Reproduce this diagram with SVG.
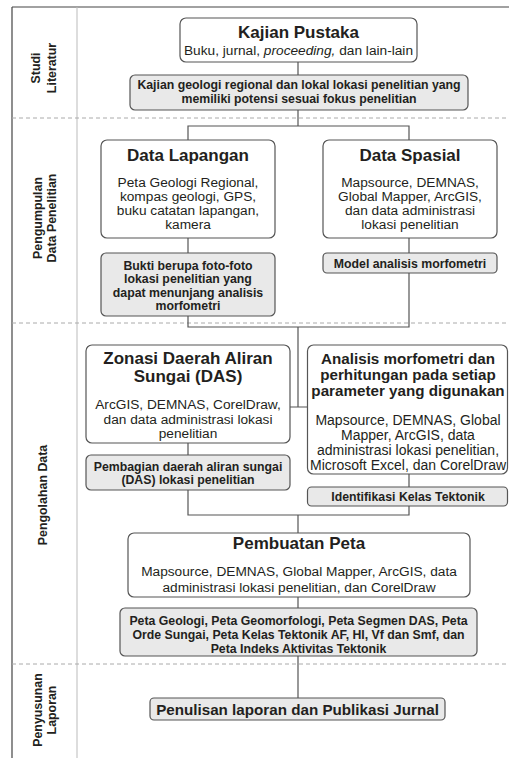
<svg xmlns="http://www.w3.org/2000/svg" width="509" height="758" viewBox="0 0 509 758">
<style>
text{font-family:"Liberation Sans",Arial,sans-serif;fill:#231f20;text-anchor:middle}
.box{fill:#fff;stroke:#555;stroke-width:1.2}
.gbox{fill:#e9e9e9;stroke:#555;stroke-width:1.2}
.t17{font-size:17px;font-weight:bold}
.t155{font-size:15.2px;font-weight:bold}
.b{font-size:13.7px}
.b14{font-size:14px}
.g{font-size:12.3px;font-weight:bold}
.lab{font-size:12.4px;font-weight:bold}
.conn{fill:none;stroke:#555;stroke-width:1.2}
.dash{stroke:#aaa;stroke-width:1;stroke-dasharray:4 3}
</style>
<rect width="509" height="758" fill="#fff"/>
<g id="frame">
<line x1="12" y1="7" x2="509" y2="7" stroke="#444" stroke-width="1.2"/>
<line x1="12" y1="7" x2="12" y2="758" stroke="#444" stroke-width="1.2"/>
<line x1="77" y1="7" x2="77" y2="758" stroke="#bbb" stroke-width="1"/>
<line class="dash" x1="12" y1="118" x2="509" y2="118"/>
<line class="dash" x1="12" y1="323" x2="509" y2="323"/>
<line class="dash" x1="12" y1="664" x2="509" y2="664"/>
</g>
<g id="labels">
<text class="lab" transform="translate(40,68) rotate(-90)">Studi</text>
<text class="lab" transform="translate(56,68) rotate(-90)">Literatur</text>
<text class="lab" transform="translate(42,218) rotate(-90)">Pengumpulan</text>
<text class="lab" transform="translate(56,218) rotate(-90)">Data Penelitian</text>
<text class="lab" transform="translate(47,495) rotate(-90)">Pengolahan Data</text>
<text class="lab" transform="translate(42,710) rotate(-90)">Penyusunan</text>
<text class="lab" transform="translate(56,710) rotate(-90)">Laporan</text>
</g>
<g id="connectors">
<path class="conn" d="M298,62V75M298,110V126M188,140V126H409V140"/>
<path class="conn" d="M188,238V253M409,238V253"/>
<path class="conn" d="M188,316V327H409V273M298,327V407M289,407H308"/>
<path class="conn" d="M188,443V455M409,474V487M188,490V515H409V506M298,515V533"/>
<path class="conn" d="M298,597V608M298,656V698"/>
</g>
<g id="kajian-pustaka">
<rect class="box" x="180" y="18" width="237" height="44" rx="6"/>
<text class="t17" x="298.5" y="38">Kajian Pustaka</text>
<text class="b" x="298.5" y="55">Buku, jurnal, <tspan font-style="italic">proceeding,</tspan> dan lain-lain</text>
</g>
<g id="kajian-geologi">
<rect class="gbox" x="130" y="75" width="338" height="35" rx="5"/>
<text class="g" x="299" y="88.5">Kajian geologi regional dan lokal lokasi penelitian yang</text>
<text class="g" x="299" y="103">memiliki potensi sesuai fokus penelitian</text>
</g>
<g id="data-lapangan">
<rect class="box" x="101" y="140" width="174" height="98" rx="6"/>
<text class="t17" x="188" y="161">Data Lapangan</text>
<text class="b" x="188" y="187">Peta Geologi Regional,</text>
<text class="b" x="188" y="201">kompas geologi, GPS,</text>
<text class="b" x="188" y="215">buku catatan lapangan,</text>
<text class="b" x="188" y="229">kamera</text>
</g>
<g id="data-spasial">
<rect class="box" x="323" y="140" width="174" height="98" rx="6"/>
<text class="t17" x="410" y="161">Data Spasial</text>
<text class="b" x="410" y="187">Mapsource, DEMNAS,</text>
<text class="b" x="410" y="201">Global Mapper, ArcGIS,</text>
<text class="b" x="410" y="215">dan data administrasi</text>
<text class="b" x="410" y="229">lokasi penelitian</text>
</g>
<g id="bukti">
<rect class="gbox" x="101" y="253" width="174" height="63" rx="5"/>
<text class="g" x="188" y="269.5">Bukti berupa foto-foto</text>
<text class="g" x="188" y="283">lokasi penelitian yang</text>
<text class="g" x="188" y="296.5">dapat menunjang analisis</text>
<text class="g" x="188" y="310">morfometri</text>
</g>
<g id="model">
<rect class="gbox" x="323" y="253" width="174" height="20" rx="4"/>
<text class="g" x="410" y="268">Model analisis morfometri</text>
</g>
<g id="zonasi">
<rect class="box" x="86" y="345" width="204" height="98" rx="6"/>
<text class="t17" x="188" y="364">Zonasi Daerah Aliran</text>
<text class="t17" x="188" y="382">Sungai (DAS)</text>
<text class="b" x="188" y="409">ArcGIS, DEMNAS, CorelDraw,</text>
<text class="b" x="188" y="423.5">dan data administrasi lokasi</text>
<text class="b" x="188" y="438">penelitian</text>
</g>
<g id="analisis">
<rect class="box" x="307.5" y="345" width="200" height="129" rx="6"/>
<text class="t155" x="408" y="364">Analisis morfometri dan</text>
<text class="t155" x="408" y="380">perhitungan pada setiap</text>
<text class="t155" x="408" y="396">parameter yang digunakan</text>
<text class="b14" x="408" y="425">Mapsource, DEMNAS, Global</text>
<text class="b14" x="408" y="440">Mapper, ArcGIS, data</text>
<text class="b14" x="408" y="455">administrasi lokasi penelitian,</text>
<text class="b14" x="408" y="470">Microsoft Excel, dan CorelDraw</text>
</g>
<g id="pembagian">
<rect class="gbox" x="86" y="455" width="204" height="35" rx="5"/>
<text class="g" x="188" y="470.5">Pembagian daerah aliran sungai</text>
<text class="g" x="188" y="484">(DAS) lokasi penelitian</text>
</g>
<g id="identifikasi">
<rect class="gbox" x="307.5" y="487" width="200" height="19" rx="4"/>
<text class="g" x="408" y="501">Identifikasi Kelas Tektonik</text>
</g>
<g id="pembuatan-peta">
<rect class="box" x="128" y="533" width="342" height="64" rx="6"/>
<text class="t17" x="299" y="549">Pembuatan Peta</text>
<text class="b" x="299" y="576">Mapsource, DEMNAS, Global Mapper, ArcGIS, data</text>
<text class="b" x="299" y="592">administrasi lokasi penelitian, dan CorelDraw</text>
</g>
<g id="peta-hasil">
<rect class="gbox" x="120" y="608" width="357" height="48" rx="5"/>
<text class="g" x="298.5" y="624.5">Peta Geologi, Peta Geomorfologi, Peta Segmen DAS, Peta</text>
<text class="g" x="298.5" y="638.5">Orde Sungai, Peta Kelas Tektonik AF, HI, Vf dan Smf, dan</text>
<text class="g" x="298.5" y="652.5">Peta Indeks Aktivitas Tektonik</text>
</g>
<g id="penulisan">
<rect class="gbox" x="150" y="698" width="295" height="22" rx="4"/>
<text x="297.5" y="714.5" style="font-size:15.2px;font-weight:bold">Penulisan laporan dan Publikasi Jurnal</text>
</g>
</svg>
